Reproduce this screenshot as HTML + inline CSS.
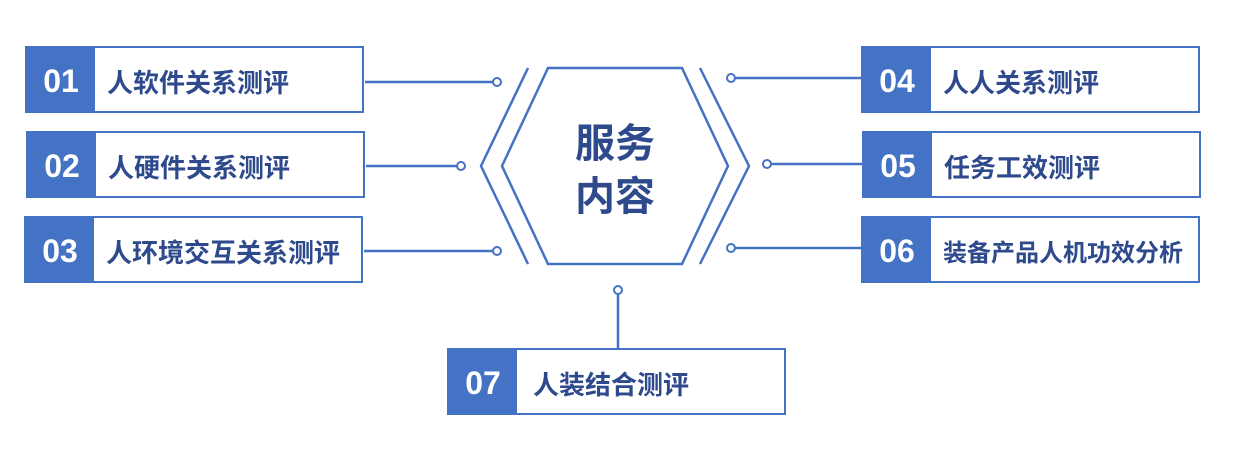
<!DOCTYPE html>
<html><head><meta charset="utf-8"><style>
body{margin:0;width:1235px;height:470px;background:#fff;position:relative;overflow:hidden;font-family:"Liberation Sans","Noto Sans CJK SC",sans-serif}
.b{position:absolute;width:335px;height:63px;border:2px solid #4472c4;background:#fff}
.n{position:absolute;left:0;top:3px;width:68px;height:60px;background:#4472c4;color:#fff;font-weight:bold;font-size:32px;line-height:66px;text-align:center}
.n{top:0;height:63px}
.t{position:absolute;left:80px;top:4px;line-height:63px;font-size:26px;font-weight:bold;color:#2e4a8c;white-space:nowrap}
svg{position:absolute;left:0;top:0}
</style></head><body>
<svg width="1235" height="470">
<g stroke="#4472c4" stroke-width="2.5" fill="none">
<polyline points="528,68 481,166 528,264"/>
<polygon points="548,68 682,68 728,166 682,264 548,264 502,166"/>
<polyline points="700,68 749,166 700,264"/>
<line x1="365" y1="82" x2="493" y2="82"/><line x1="366" y1="166" x2="457" y2="166"/><line x1="364" y1="251" x2="493" y2="251"/>
<line x1="735" y1="78" x2="862" y2="78"/><line x1="771" y1="164" x2="863" y2="164"/><line x1="735" y1="248" x2="862" y2="248"/>
<line x1="618" y1="294" x2="618" y2="349"/>
</g>
<g stroke="#4472c4" stroke-width="2" fill="#fff">
<circle cx="497" cy="82" r="4"/><circle cx="461" cy="166" r="4"/><circle cx="497" cy="251" r="4"/>
<circle cx="731" cy="78" r="4"/><circle cx="767" cy="164" r="4"/><circle cx="731" cy="248" r="4"/>
<circle cx="618" cy="290" r="4"/>
</g>
<text x="615" y="157" text-anchor="middle" font-size="40" font-weight="bold" fill="#2e4a8c" font-family="Liberation Sans,Noto Sans CJK SC,sans-serif">服务</text>
<text x="615" y="210" text-anchor="middle" font-size="40" font-weight="bold" fill="#2e4a8c" font-family="Liberation Sans,Noto Sans CJK SC,sans-serif">内容</text>
</svg>
<div class="b" style="left:25px;top:46px"><div class="n">01</div><div class="t">人软件关系测评</div></div>
<div class="b" style="left:26px;top:131px"><div class="n">02</div><div class="t">人硬件关系测评</div></div>
<div class="b" style="left:24px;top:216px"><div class="n">03</div><div class="t">人环境交互关系测评</div></div>
<div class="b" style="left:861px;top:46px"><div class="n">04</div><div class="t">人人关系测评</div></div>
<div class="b" style="left:862px;top:131px"><div class="n">05</div><div class="t">任务工效测评</div></div>
<div class="b" style="left:861px;top:216px"><div class="n">06</div><div class="t" style="font-size:24px">装备产品人机功效分析</div></div>
<div class="b" style="left:447px;top:348px"><div class="n">07</div><div class="t" style="left:84px">人装结合测评</div></div>
</body></html>
